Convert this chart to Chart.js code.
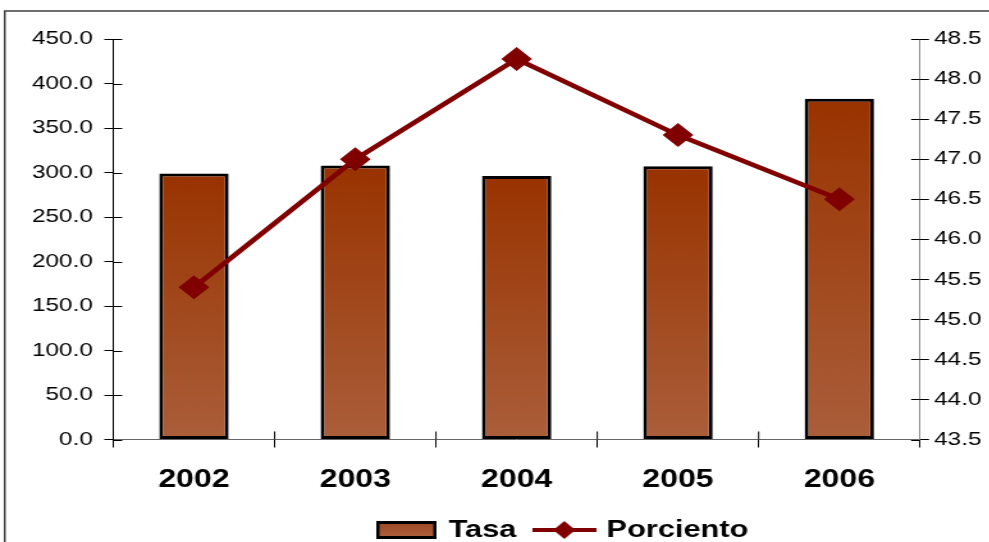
<!DOCTYPE html>
<html>
<head>
<meta charset="utf-8">
<script src="https://cdn.jsdelivr.net/npm/chart.js@4"></script>
<style>
  html, body { margin: 0; padding: 0; width: 989px; height: 542px; overflow: hidden; background: #fff; }
  #wrap { position: absolute; left: 0; top: 0; width: 881px; height: 552px; transform: scaleX(1.28); transform-origin: 0 0; }
</style>
</head>
<body>
<div id="wrap"><canvas id="tasaChart"></canvas></div>
<script>
var years = ['2002', '2003', '2004', '2005', '2006'];
var tasa = [299, 308, 296, 307, 383];
var porciento = [45.4, 47.0, 48.25, 47.3, 46.5];
var leftTicks = [0, 50, 100, 150, 200, 250, 300, 350, 400, 450];
var rightTicks = [43.5, 44.0, 44.5, 45.0, 45.5, 46.0, 46.5, 47.0, 47.5, 48.0, 48.5];

var FONT = "'Liberation Sans', Arial, sans-serif";

// legend swatches drawn once, handed to the legend as point styles
function barSwatch() {
  var c = document.createElement('canvas');
  c.width = 47; c.height = 18;
  var g = c.getContext('2d');
  g.fillStyle = '#000';
  g.fillRect(0, 0, 47, 18);
  var gr = g.createLinearGradient(0, 3, 0, 15);
  gr.addColorStop(0, '#A04A28');
  gr.addColorStop(1, '#AC5E3A');
  g.fillStyle = gr;
  g.fillRect(2.5, 3, 42, 12);
  return c;
}
function lineSwatch() {
  var c = document.createElement('canvas');
  c.width = 50; c.height = 20;
  var g = c.getContext('2d');
  g.strokeStyle = '#800000';
  g.lineWidth = 4;
  g.beginPath(); g.moveTo(0, 10); g.lineTo(50, 10); g.stroke();
  g.fillStyle = '#800000';
  g.beginPath();
  g.moveTo(25 - 8.6, 10); g.lineTo(25, 1); g.lineTo(25 + 8.6, 10); g.lineTo(25, 19);
  g.closePath(); g.fill();
  return c;
}
var swatches = [barSwatch(), lineSwatch()];

function barFill(ctx) {
  if (ctx.type !== 'data') return '#A24A2A';
  var y = ctx.chart.scales.y;
  var top = y.getPixelForValue(ctx.raw);
  var bot = y.getPixelForValue(0);
  var gr = ctx.chart.ctx.createLinearGradient(0, top, 0, bot);
  gr.addColorStop(0, '#993300');
  gr.addColorStop(1, '#AA5E3A');
  return gr;
}

var frameAndTicks = {
  id: 'frameAndTicks',
  beforeDraw: function (chart) {
    var c = chart.ctx;
    c.save();
    c.strokeStyle = '#404040';
    c.lineWidth = 1.5;
    c.beginPath();
    c.moveTo(3.7, 600); c.lineTo(3.7, 11); c.lineTo(900, 11);
    c.stroke();
    c.restore();
  },
  afterDraw: function (chart) {
    var c = chart.ctx, a = chart.chartArea;
    var yl = chart.scales.y, yr = chart.scales.y1;
    c.save();
    c.strokeStyle = '#000';
    c.lineWidth = 1;
    c.beginPath();
    yl.ticks.forEach(function (t) {
      var p = Math.round(yl.getPixelForValue(t.value)) + 0.5;
      c.moveTo(a.left, p); c.lineTo(a.left + 7, p);
    });
    yr.ticks.forEach(function (t) {
      var p = Math.round(yr.getPixelForValue(t.value)) + 0.5;
      c.moveTo(a.right - 7, p); c.lineTo(a.right, p);
    });
    var step = (a.right - a.left) / years.length;
    for (var i = 1; i < years.length; i++) {
      var px = a.left + i * step;
      c.moveTo(px, a.bottom - 8); c.lineTo(px, a.bottom);
    }
    c.stroke();
    c.restore();
  }
};

new Chart(document.getElementById('tasaChart'), {
  type: 'bar',
  data: {
    labels: years,
    datasets: [{
      type: 'line',
      label: 'Porciento',
      data: porciento,
      yAxisID: 'y1',
      borderColor: '#800000',
      borderWidth: 4.5,
      tension: 0,
      pointStyle: 'rectRot',
      pointRadius: 12,
      pointHoverRadius: 12,
      pointBackgroundColor: '#800000',
      pointBorderWidth: 0,
      order: 1
    }, {
      label: 'Tasa',
      data: tasa,
      yAxisID: 'y',
      backgroundColor: barFill,
      borderColor: '#000',
      borderWidth: 3,
      borderSkipped: false,
      barPercentage: 0.43,
      categoryPercentage: 1,
      order: 2
    }]
  },
  options: {
    responsive: true,
    maintainAspectRatio: false,
    animation: false,
    devicePixelRatio: 1,
    layout: { padding: { top: 39, left: 0, right: 0, bottom: 0 } },
    plugins: {
      tooltip: { enabled: false },
      legend: {
        position: 'bottom',
        labels: {
          usePointStyle: true,
          pointStyleWidth: 42,
          padding: 16.5,
          color: '#000',
          font: { family: FONT, size: 24, weight: 'bold' },
          generateLabels: function () {
            return ['Tasa', 'Porciento'].map(function (t, i) {
              return { text: t, pointStyle: swatches[i], rotation: 0, fillStyle: '#fff', strokeStyle: '#fff', lineWidth: 0, hidden: false, fontColor: '#000', datasetIndex: i };
            });
          }
        }
      }
    },
    scales: {
      x: {
        offset: true,
        grid: { display: true, drawOnChartArea: false, offset: true, tickLength: 8, color: '#000' },
        border: { color: '#666', width: 1 },
        ticks: { color: '#000', padding: 18, font: { family: FONT, size: 25, weight: 'bold' } },
        afterFit: function (s) { s.height = 62; }
      },
      y: {
        position: 'left',
        min: 0,
        max: 450,
        afterBuildTicks: function (s) { s.ticks = leftTicks.map(function (v) { return { value: v }; }); },
        grid: { drawOnChartArea: false, tickLength: 7, color: '#000' },
        border: { color: '#000', width: 1 },
        ticks: { color: '#000', padding: 9, font: { family: FONT, size: 19 }, callback: function (v) { return Number(v).toFixed(1); } },
        afterFit: function (s) { s.width = 88.5; }
      },
      y1: {
        position: 'right',
        min: 43.5,
        max: 48.5,
        afterBuildTicks: function (s) { s.ticks = rightTicks.map(function (v) { return { value: v }; }); },
        grid: { drawOnChartArea: false, tickLength: 7, color: '#000' },
        border: { color: '#888', width: 1 },
        ticks: { color: '#000', padding: 4, font: { family: FONT, size: 19 }, callback: function (v) { return Number(v).toFixed(1); } },
        afterFit: function (s) { s.width = 881 - 718.75; }
      }
    }
  },
  plugins: [frameAndTicks]
});
</script>
</body>
</html>
